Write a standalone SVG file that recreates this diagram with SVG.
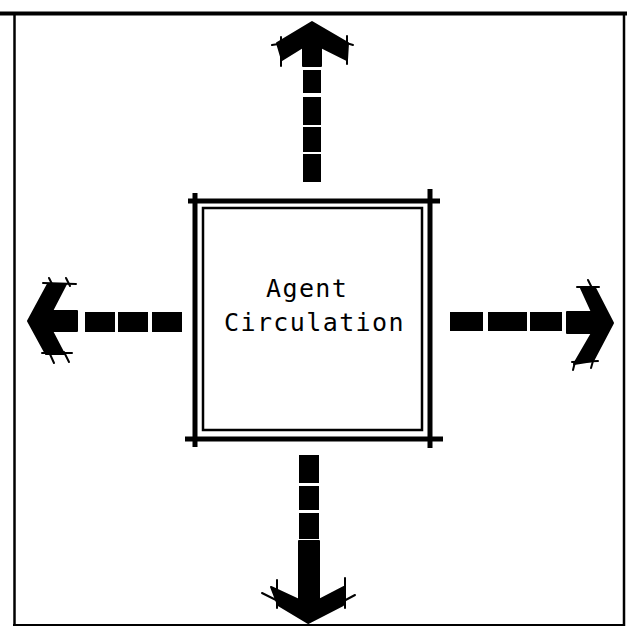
<svg xmlns="http://www.w3.org/2000/svg" width="627" height="628" viewBox="0 0 627 628">
  <style>
    .frame { stroke: #000; fill: none; }
    .box { stroke: #000; stroke-width: 5; fill: none; }
    .inner { stroke: #000; stroke-width: 2.5; fill: none; }
    .ink { fill: #000; }
    .head { fill: #000; stroke: #000; stroke-width: 2; stroke-linejoin: round; }
    .tick { stroke: #000; stroke-width: 2; fill: none; stroke-linecap: round; }
    .label { font-family: "DejaVu Sans Mono", "Liberation Mono", monospace; font-size: 25px; letter-spacing: 1.4px; fill: #000; }
  </style>
  <rect x="0" y="0" width="627" height="628" fill="#fff"/>
  <g id="frame">
    <line class="frame" x1="0" y1="13.5" x2="627" y2="13.5" stroke-width="4"/>
    <line class="frame" x1="14.5" y1="12" x2="14.5" y2="626" stroke-width="2.5"/>
    <line class="frame" x1="624" y1="12" x2="624" y2="626" stroke-width="2.5"/>
    <line class="frame" x1="13" y1="625" x2="625" y2="625" stroke-width="2"/>
  </g>
  <g id="agent-circulation">
    <line class="box" x1="188" y1="201" x2="440" y2="201"/>
    <line class="box" x1="185" y1="439" x2="443" y2="439"/>
    <line class="box" x1="195" y1="193" x2="195" y2="447"/>
    <line class="box" x1="430" y1="189" x2="430" y2="448"/>
    <rect class="inner" x="203" y="208" width="219" height="222"/>
    <text class="label" x="266" y="297">Agent</text>
    <text class="label" x="224" y="331">Circulation</text>
  </g>
  <g id="connectors">
    <g id="arrow-up">
      <polygon class="head" points="312,22 348,43 347,60 321,47 321,66 303,66 303,47 282,60 277,43"/>
      <rect class="ink" x="303" y="70" width="18" height="23"/>
      <rect class="ink" x="303" y="97" width="18" height="28"/>
      <rect class="ink" x="303" y="127" width="18" height="25"/>
      <rect class="ink" x="303" y="154" width="18" height="28"/>
      <line class="tick" x1="281" y1="37" x2="281" y2="66"/>
      <line class="tick" x1="272" y1="45" x2="285" y2="43"/>
      <line class="tick" x1="347" y1="36" x2="347" y2="64"/>
      <line class="tick" x1="343" y1="42" x2="353" y2="45"/>
    </g>
    <g id="arrow-down">
      <polygon class="head" points="308,623 278,605 271,587 299,600 299,541 319,541 319,600 344,587 343,605"/>
      <rect class="ink" x="299" y="455" width="20" height="28"/>
      <rect class="ink" x="299" y="486" width="20" height="24"/>
      <rect class="ink" x="299" y="513" width="20" height="26"/>
      <line class="tick" x1="277" y1="580" x2="277" y2="608"/>
      <line class="tick" x1="262" y1="593" x2="280" y2="602"/>
      <line class="tick" x1="345" y1="578" x2="345" y2="608"/>
      <line class="tick" x1="355" y1="595" x2="340" y2="603"/>
    </g>
    <g id="arrow-left">
      <polygon class="head" points="28,321 48,284 66,284 52,311 77,311 77,331 52,331 64,354 46,354"/>
      <rect class="ink" x="85" y="312" width="30" height="20"/>
      <rect class="ink" x="118" y="312" width="30" height="20"/>
      <rect class="ink" x="152" y="312" width="30" height="20"/>
      <line class="tick" x1="43" y1="283" x2="76" y2="284"/>
      <line class="tick" x1="49" y1="278" x2="53" y2="286"/>
      <line class="tick" x1="66" y1="278" x2="70" y2="286"/>
      <line class="tick" x1="42" y1="353" x2="72" y2="353"/>
      <line class="tick" x1="49" y1="352" x2="54" y2="363"/>
      <line class="tick" x1="64" y1="352" x2="69" y2="362"/>
    </g>
    <g id="arrow-right">
      <polygon class="head" points="613,323 593,361 574,364 592,333 567,333 567,312 592,312 581,288 595,288"/>
      <rect class="ink" x="450" y="312" width="33" height="19"/>
      <rect class="ink" x="488" y="312" width="39" height="19"/>
      <rect class="ink" x="530" y="312" width="32" height="19"/>
      <line class="tick" x1="577" y1="287" x2="599" y2="287"/>
      <line class="tick" x1="588" y1="280" x2="592" y2="288"/>
      <line class="tick" x1="572" y1="362" x2="598" y2="361"/>
      <line class="tick" x1="575" y1="362" x2="573" y2="370"/>
      <line class="tick" x1="593" y1="361" x2="591" y2="368"/>
    </g>
  </g>
</svg>
